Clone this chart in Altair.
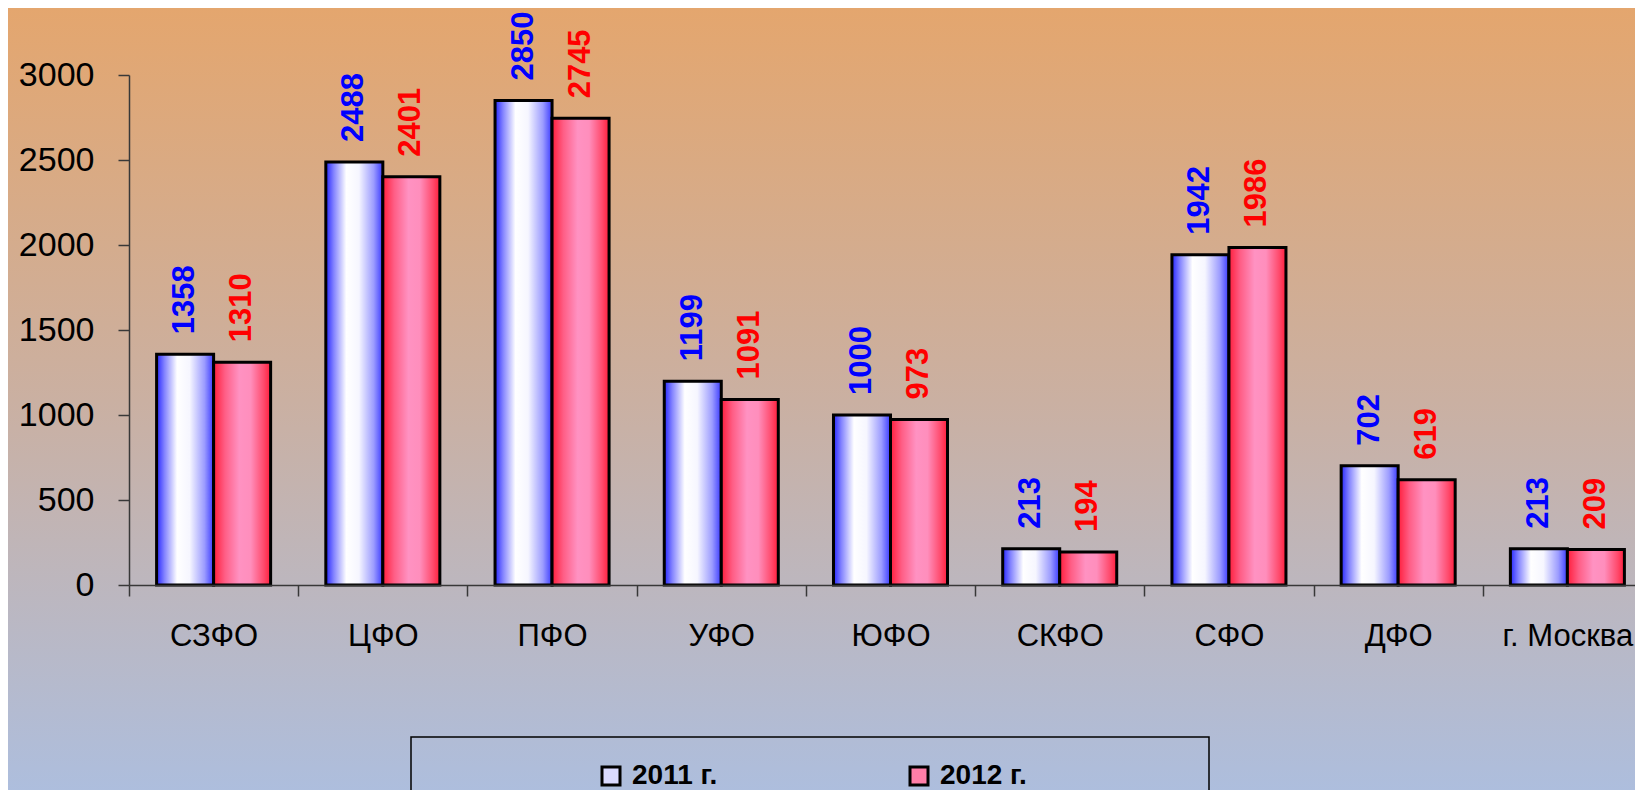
import altair as alt
import pandas as pd

regions = ["СЗФО", "ЦФО", "ПФО", "УФО", "ЮФО", "СКФО", "СФО", "ДФО", "г. Москва"]
v2011 = [1358, 2488, 2850, 1199, 1000, 213, 1942, 702, 213]
v2012 = [1310, 2401, 2745, 1091, 973, 194, 1986, 619, 209]
series = ["2011 г.", "2012 г."]
y_ticks = [0, 500, 1000, 1500, 2000, 2500, 3000]

rows = []
for r, a, b in zip(regions, v2011, v2012):
    rows.append({"region": r, "year": series[0], "value": a})
    rows.append({"region": r, "year": series[1], "value": b})
df = pd.DataFrame(rows)

FONT = "Liberation Sans"
W, H = 1505, 510
PAD_L, PAD_T = 121, 67
TOTAL_W, TOTAL_H = 1627, 782

grad_blue = {"gradient": "linear", "x1": 0, "x2": 1, "y1": 0, "y2": 0,
             "stops": [{"offset": 0, "color": "#2626FF"},
                       {"offset": 0.14, "color": "#8484FF"},
                       {"offset": 0.36, "color": "#FFFFFF"},
                       {"offset": 0.58, "color": "#F6F6FF"},
                       {"offset": 0.84, "color": "#9C9CFF"},
                       {"offset": 1, "color": "#3A3AFF"}]}
grad_red = {"gradient": "linear", "x1": 0, "x2": 1, "y1": 0, "y2": 0,
            "stops": [{"offset": 0, "color": "#FF1E3C"},
                      {"offset": 0.2, "color": "#FF5E86"},
                      {"offset": 0.45, "color": "#FF92C2"},
                      {"offset": 0.65, "color": "#FF8EBC"},
                      {"offset": 0.88, "color": "#FF4A6C"},
                      {"offset": 1, "color": "#FF1E3C"}]}
grad_bg = {"gradient": "linear", "x1": 0, "x2": 0, "y1": 0, "y2": 1,
           "stops": [{"offset": 0, "color": "#E4A66E"},
                     {"offset": 0.5, "color": "#CAB0A2"},
                     {"offset": 1, "color": "#ADBEDE"}]}

x_enc = alt.X("region:N", sort=regions,
              scale=alt.Scale(domain=regions, range=[0, 1523], paddingInner=0, paddingOuter=0),
              axis=alt.Axis(title=None, labelAngle=0, tickBand="extent", tickSize=11,
                            labelPadding=25, labelFontSize=31, labelFont=FONT,
                            labelColor="black", domainColor="#383838", tickColor="#383838",
                            domainWidth=1.5, tickWidth=1.5, grid=False, zindex=2))
y_enc = alt.Y("value:Q", scale=alt.Scale(domain=[0, 3000], nice=False, zero=True),
              axis=alt.Axis(values=y_ticks, format="d", title=None, grid=False, tickSize=11,
                            labelPadding=24, labelFontSize=34, labelFont=FONT,
                            labelColor="black", domainColor="#383838", tickColor="#383838",
                            domainWidth=1.5, tickWidth=1.5, zindex=2))
xo_enc = alt.XOffset("year:N", scale=alt.Scale(domain=series, paddingInner=0, paddingOuter=0.484))

base = alt.Chart(df).encode(x=x_enc, y=y_enc, xOffset=xo_enc)

bg = alt.Chart(alt.Data(values=[{}])).mark_rect(fill=grad_bg).encode(
    x=alt.value(-PAD_L), x2=alt.value(TOTAL_W - PAD_L + 5),
    y=alt.value(-PAD_T), y2=alt.value(TOTAL_H - PAD_T + 5))

legend_box = alt.Chart(alt.Data(values=[{}])).mark_rect(
    fillOpacity=0, stroke="black", strokeWidth=1.5).encode(
    x=alt.value(282), x2=alt.value(1080), y=alt.value(662), y2=alt.value(760))

legend_layer = base.mark_square(size=1, opacity=1, strokeWidth=0).encode(
    color=alt.Color("year:N",
                    scale=alt.Scale(domain=series, range=["#DADAFF", "#FF7EA8"]),
                    legend=alt.Legend(orient="none", legendX=468, legendY=687,
                                      direction="horizontal", title=None,
                                      symbolType="square", symbolSize=324,
                                      symbolStrokeColor="black", symbolStrokeWidth=3,
                                      symbolOpacity=1,
                                      labelFontSize=28, labelFontWeight="bold",
                                      labelFont=FONT, labelColor="black",
                                      labelOffset=7, columnPadding=186, padding=0)))

bars_a = base.transform_filter(alt.datum.year == series[0]).mark_bar(
    fill=grad_blue, stroke="black", strokeWidth=3)
bars_b = base.transform_filter(alt.datum.year == series[1]).mark_bar(
    fill=grad_red, stroke="black", strokeWidth=3)

text_a = base.transform_filter(alt.datum.year == series[0]).mark_text(
    angle=270, align="left", baseline="middle", dx=20, fontSize=31,
    fontWeight="bold", font=FONT, color="#0000FF").encode(text="value:Q")
text_b = base.transform_filter(alt.datum.year == series[1]).mark_text(
    angle=270, align="left", baseline="middle", dx=20, fontSize=31,
    fontWeight="bold", font=FONT, color="#FF0000").encode(text="value:Q")

chart = alt.layer(bg, legend_box, legend_layer, bars_a, bars_b, text_a, text_b).properties(
    width=W, height=H,
    autosize=alt.AutoSizeParams(type="none"),
    padding={"left": PAD_L, "top": PAD_T, "right": TOTAL_W - PAD_L - W,
             "bottom": TOTAL_H - PAD_T - H},
).configure_view(stroke=None)

chart.save("out.html", embed_options={"renderer": "svg", "actions": False})
